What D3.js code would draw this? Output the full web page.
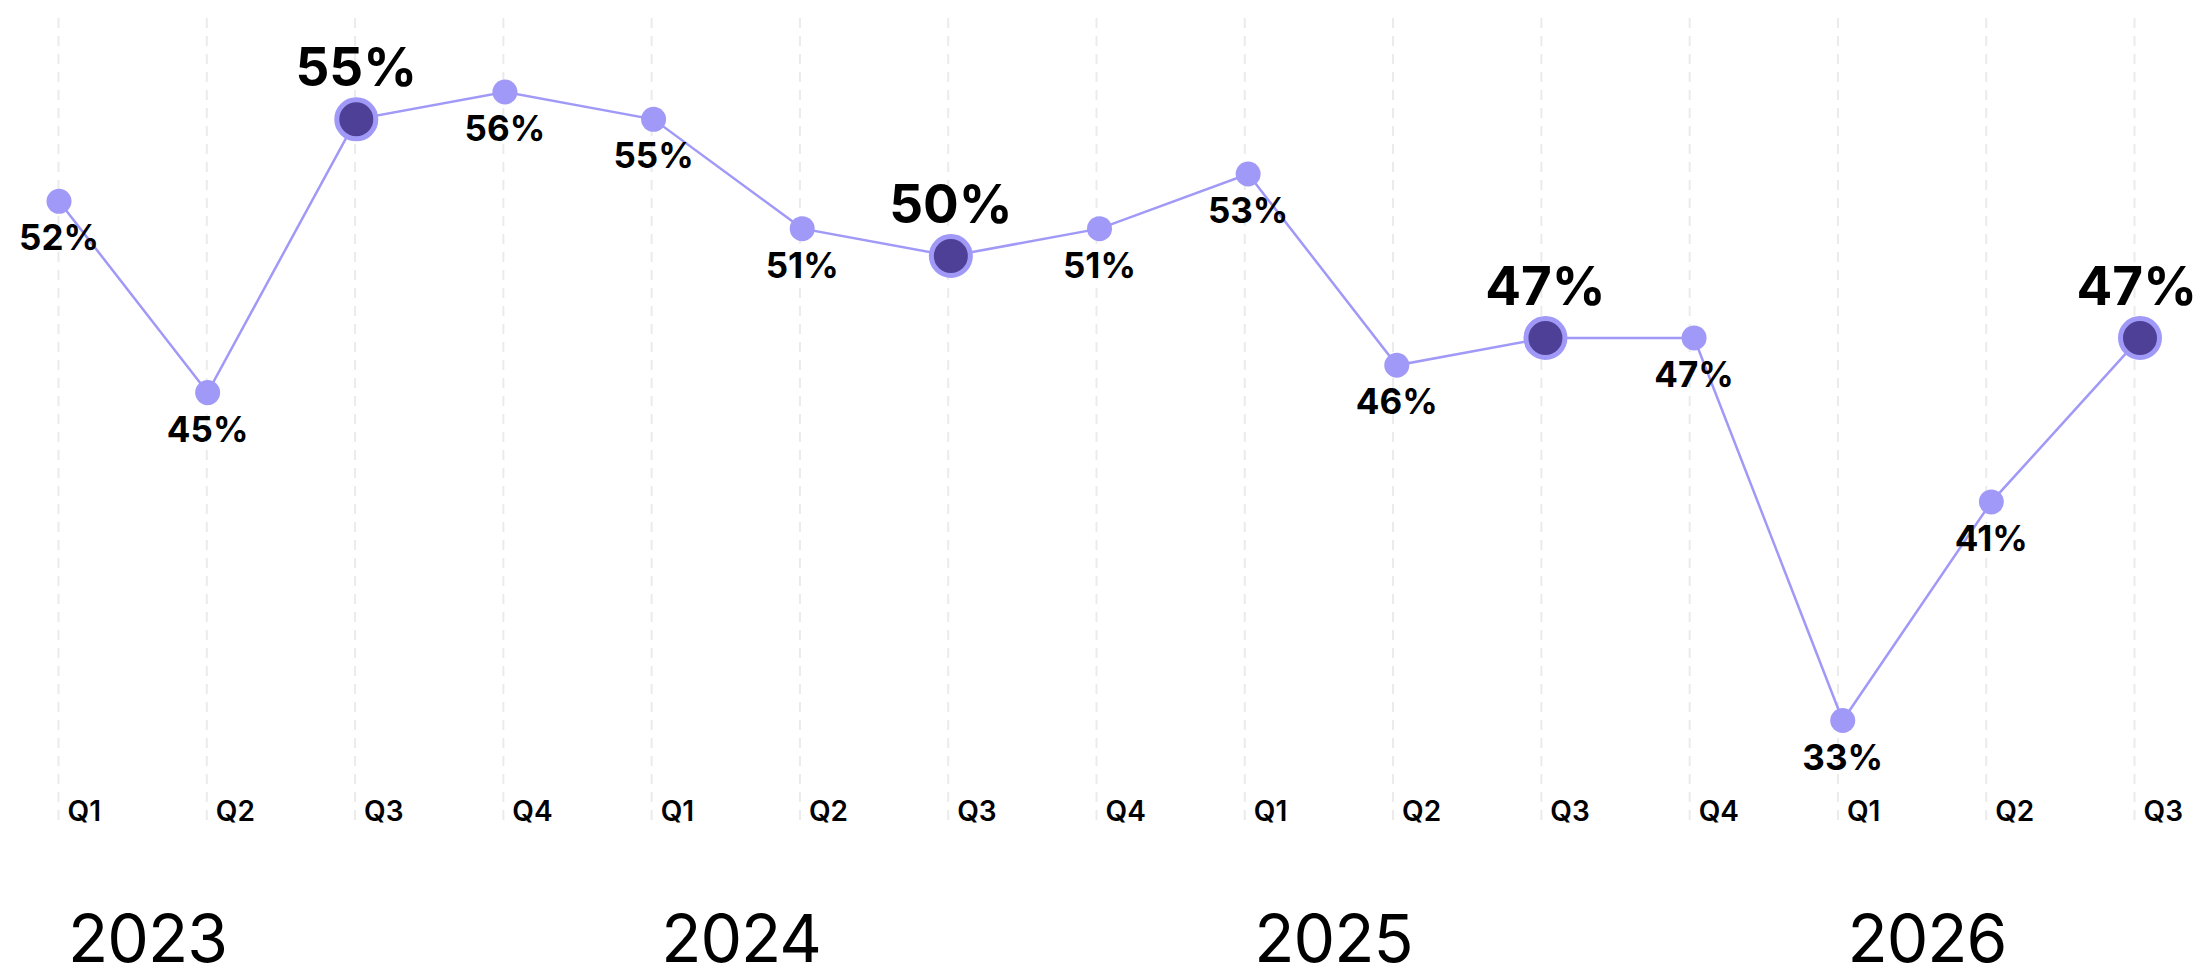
<!DOCTYPE html>
<html>
<head>
<meta charset="utf-8">
<script src="https://cdn.jsdelivr.net/npm/d3@7"></script>
<style>
  body { margin: 0; background: #fff; }
  svg { display: block; font-family: Inter, "Noto Sans", sans-serif; }
</style>
</head>
<body>
<div id="chart"></div>
<script>
const quarters = ["Q1", "Q2", "Q3", "Q4", "Q1", "Q2", "Q3", "Q4", "Q1", "Q2", "Q3", "Q4", "Q1", "Q2", "Q3"];
const years = ["2023", "2024", "2025", "2026"];
const values = [52, 45, 55, 56, 55, 51, 50, 51, 53, 46, 47, 47, 33, 41, 47];
const highlighted = [2, 6, 10, 14];

const width = 2200, height = 969;
const lineColor = "#a199f7";
const darkColor = "#4e4096";

const svg = d3.select("#chart").append("svg")
  .attr("width", width)
  .attr("height", height);

const idx = d3.range(values.length);

// gridlines and points sit on slightly different spacing
const xGrid = d3.scalePoint().domain(idx).range([58, 2134]);
const x = d3.scalePoint().domain(idx).range([59, 2140]);
const y = d3.scaleLinear().domain(d3.extent(values)).range([720.5, 92]);

// quarter axis with dashed gridlines
const axis = svg.append("g")
  .attr("transform", "translate(0,820)")
  .call(d3.axisBottom(xGrid).tickSize(-806).tickFormat(i => quarters[i]));

axis.select(".domain").remove();
axis.selectAll(".tick line")
  .attr("stroke", "#ebebeb")
  .attr("stroke-width", 2)
  .attr("stroke-dasharray", "10 8");
axis.selectAll(".tick text")
  .attr("text-anchor", "start")
  .attr("x", 9)
  .attr("y", 1)
  .attr("dy", 0)
  .attr("fill", "#000")
  .style("font-family", "Inter, sans-serif")
  .style("font-size", "28px")
  .style("font-weight", 600);

// year labels under each Q1
svg.append("g")
  .selectAll("text")
  .data(years)
  .enter().append("text")
    .attr("x", (d, i) => xGrid(i * 4) + 10)
    .attr("y", 962)
    .attr("fill", "#000")
    .style("font-size", "66px")
    .style("font-weight", 400)
    .style("letter-spacing", "-1px")
    .text(d => d);

const line = d3.line()
  .x((d, i) => x(i))
  .y(d => y(d));

svg.append("path")
  .datum(values)
  .attr("fill", "none")
  .attr("stroke", lineColor)
  .attr("stroke-width", 2.5)
  .attr("d", line);

const isHi = i => highlighted.includes(i);

svg.append("g")
  .selectAll("circle")
  .data(values)
  .enter().append("circle")
    .attr("cx", (d, i) => x(i))
    .attr("cy", d => y(d))
    .attr("r", (d, i) => isHi(i) ? 19.5 : 12.5)
    .attr("fill", (d, i) => isHi(i) ? darkColor : lineColor)
    .attr("stroke", (d, i) => isHi(i) ? lineColor : "none")
    .attr("stroke-width", 5);

// value labels: small below, big above for highlighted
const labels = svg.append("g")
  .attr("text-anchor", "middle")
  .attr("fill", "#000")
  .style("font-weight", 700);

labels.selectAll("text")
  .data(values)
  .enter().append("text")
    .attr("x", (d, i) => x(i))
    .attr("y", (d, i) => isHi(i) ? y(d) - 33 : y(d) + 49)
    .style("font-size", (d, i) => isHi(i) ? "53px" : "35px")
    .text(d => d + "%")
    .each(function() {
      // keep text inside the right edge
      const b = this.getBBox();
      const over = b.x + b.width - (width - 3);
      if (over > 0) d3.select(this).attr("x", +d3.select(this).attr("x") - over);
    });
</script>
</body>
</html>
